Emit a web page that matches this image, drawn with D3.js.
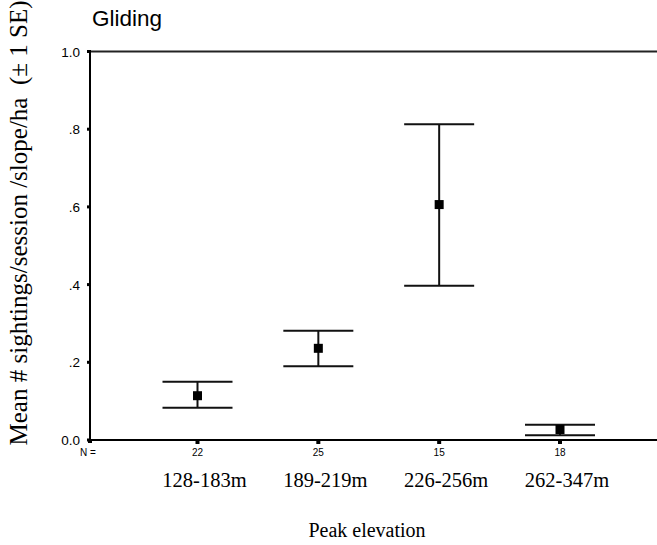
<!DOCTYPE html>
<html lang="en">
<head>
<meta charset="utf-8">
<style>
body { margin: 0; background: #fff; }
svg { display: block; }
.sans { font-family: "Liberation Sans", Arial, sans-serif; }
.serif { font-family: "Liberation Serif", "Times New Roman", serif; }
</style>
<title>Gliding</title>
<script src="https://cdn.jsdelivr.net/npm/d3@7"></script>
</head>
<body>
<script>

var width = 657,
	height = 545;

// data
var categories = ["128-183m", "189-219m", "226-256m", "262-347m"];
var nValues = [22, 25, 15, 18];
var means = [0.114, 0.236, 0.606, 0.027];
var upper = [0.150, 0.281, 0.813, 0.039];
var lower = [0.083, 0.190, 0.397, 0.012];
var yTicks = [0, 0.2, 0.4, 0.6, 0.8, 1.0];
var yTickLabels = ["0.0", ".2", ".4", ".6", ".8", "1.0"];

var plotLeft = 90, plotTop = 51.5, plotBottom = 440;

var svg = d3.select("body").append("svg")
	.attr("width", width)
	.attr("height", height);

var y = d3.scaleLinear().domain([0, 1]).range([plotBottom, plotTop]);
var x = d3.scalePoint().domain(categories).range([197.5, 560]);

// frame: left axis, top line, bottom axis
svg.append("line").attr("x1", plotLeft).attr("x2", plotLeft).attr("y1", plotTop).attr("y2", plotBottom)
	.attr("stroke", "#000").attr("stroke-width", 2);
svg.append("line").attr("x1", plotLeft).attr("x2", width).attr("y1", plotTop).attr("y2", plotTop)
	.attr("stroke", "#222").attr("stroke-width", 2);
svg.append("line").attr("x1", plotLeft).attr("x2", width).attr("y1", plotBottom).attr("y2", plotBottom)
	.attr("stroke", "#000").attr("stroke-width", 2);

// y ticks
svg.selectAll(".ytick").data(yTicks).enter().append("rect")
	.attr("x", plotLeft - 3).attr("y", function(d){ return y(d) - 1.5; })
	.attr("width", 4).attr("height", 3).attr("fill", "#000");

svg.selectAll(".ylab").data(yTicks).enter().append("text")
	.attr("class", "sans")
	.attr("x", 80).attr("y", function(d){ return y(d) + 5; })
	.attr("text-anchor", "end")
	.style("font-size", "13.5px")
	.text(function(d, i){ return yTickLabels[i]; });

// x ticks (N= position at the axis)
svg.append("rect").attr("x", plotLeft - 2).attr("y", plotBottom - 1).attr("width", 4).attr("height", 4).attr("fill", "#000");
svg.selectAll(".xtick").data(categories).enter().append("rect")
	.attr("x", function(d){ return x(d) - 2; }).attr("y", plotBottom).attr("width", 4).attr("height", 4)
	.attr("fill", "#000");

svg.append("text").attr("class", "sans")
	.attr("x", 88).attr("y", 456).attr("text-anchor", "middle")
	.style("font-size", "10px").text("N =");
svg.selectAll(".nlab").data(categories).enter().append("text")
	.attr("class", "sans")
	.attr("x", function(d){ return x(d); }).attr("y", 456)
	.attr("text-anchor", "middle")
	.style("font-size", "10px")
	.text(function(d, i){ return nValues[i]; });

// category labels
svg.selectAll(".cat").data(categories).enter().append("text")
	.attr("class", "serif")
	.attr("x", function(d){ return x(d) + 7; }).attr("y", 487)
	.attr("text-anchor", "middle")
	.style("font-size", "20.5px")
	.text(function(d){ return d; });

// error bars
var cap = 35;
var g = svg.selectAll(".bar").data(categories).enter().append("g");
g.append("line")
	.attr("x1", function(d){ return x(d); }).attr("x2", function(d){ return x(d); })
	.attr("y1", function(d, i){ return y(upper[i]); }).attr("y2", function(d, i){ return y(lower[i]); })
	.attr("stroke", "#111").attr("stroke-width", 2);
g.append("line")
	.attr("x1", function(d){ return x(d) - cap; }).attr("x2", function(d){ return x(d) + cap; })
	.attr("y1", function(d, i){ return y(upper[i]); }).attr("y2", function(d, i){ return y(upper[i]); })
	.attr("stroke", "#111").attr("stroke-width", 2);
g.append("line")
	.attr("x1", function(d){ return x(d) - cap; }).attr("x2", function(d){ return x(d) + cap; })
	.attr("y1", function(d, i){ return y(lower[i]); }).attr("y2", function(d, i){ return y(lower[i]); })
	.attr("stroke", "#111").attr("stroke-width", 2);
g.append("rect")
	.attr("x", function(d){ return x(d) - 4.5; }).attr("y", function(d, i){ return y(means[i]) - 4.5; })
	.attr("width", 9).attr("height", 9).attr("fill", "#000");

// titles
svg.append("text").attr("class", "sans")
	.attr("x", 92).attr("y", 26)
	.style("font-size", "22.5px")
	.text("Gliding");

svg.append("text").attr("class", "serif")
	.attr("x", 367).attr("y", 537)
	.attr("text-anchor", "middle")
	.style("font-size", "20px")
	.text("Peak elevation");

svg.append("text").attr("class", "serif")
	.attr("transform", "translate(27," + 223 + ") rotate(-90)")
	.attr("text-anchor", "middle")
	.style("font-size", "25px")
	.style("white-space", "pre")
	.text("Mean # sightings/session /slope/ha  (\u00b1 1 SE)");

</script>
</body>
</html>
